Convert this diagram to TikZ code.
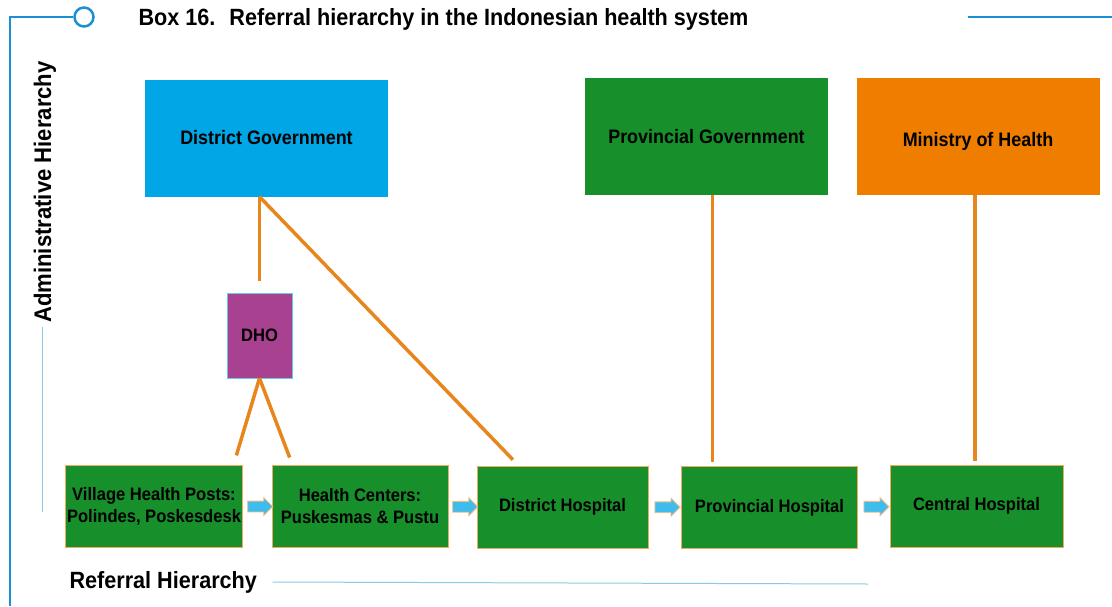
\documentclass[tikz,border=0pt]{standalone}
\usepackage{fontspec}
\setmainfont{Liberation Sans}[FakeStretch=0.92]
\usetikzlibrary{positioning,shapes.arrows,calc}
\definecolor{frameblue}{HTML}{1A8FD6}
\definecolor{lineblue}{HTML}{8CC8E8}
\definecolor{govblue}{HTML}{00A6E6}
\definecolor{govgreen}{HTML}{17902B}
\definecolor{mohorange}{HTML}{EE7D00}
\definecolor{dhopurple}{HTML}{A8418F}
\definecolor{linkorange}{HTML}{E8861E}
\tikzset{
  govbox/.style={minimum width=243pt, minimum height=117pt, align=center, font=\bfseries\fontsize{19.5}{22}\selectfont},
  carebox/.style={fill=govgreen, draw=linkorange!70, line width=1pt, minimum width=176pt, minimum height=82pt, inner xsep=2pt, align=center, font=\bfseries\fontsize{18}{22}\selectfont},
  link/.style={draw=linkorange, line width=3.5pt},
  refarr/.style={single arrow, fill=govblue!75, draw=linkorange!55, line width=0.8pt, minimum height=25pt, minimum width=17pt, inner xsep=0pt, inner ysep=5pt, single arrow head extend=3.5pt},
  axisline/.style={draw=lineblue, line width=1pt},
  frame/.style={draw=frameblue, line width=2.5pt},
}
\begin{document}
\begin{tikzpicture}[x=1pt, y=1pt]
  \useasboundingbox (0,0) rectangle (1112,-606);
  % frame and headings
  \node[circle, frame, fill=white, minimum size=19pt, inner sep=0pt] (knob) at (84,-17) {};
  \draw[frame] (10,-606) -- (10,-17) -- (knob.west);
  \coordinate (rt) at (968,-17);
  \draw[frame] (rt) -- (1112,-17);
  \node[anchor=base west, font=\bfseries\fontsize{23.5}{26}\selectfont] (title) at (135,-25) {Box 16.\hspace{14pt}Referral hierarchy in the Indonesian health system};
  \node[rotate=90, font=\bfseries\fontsize{24}{28}\selectfont] (adm) at (45,-192) {Administrative Hierarchy};
  \draw[axisline] (42,-327) -- (42,-512);
  \node[anchor=west, font=\bfseries\fontsize{23.5}{26}\selectfont] (refh) at (66,-582) {Referral Hierarchy};
  \draw[axisline] ([xshift=12pt]refh.east) -- (868,-584);
  % administrative level
  \node[govbox, fill=govblue] (dgov) at (266.5,-138) {District Government};
  \node[govbox, fill=govgreen] (pgov) at (706.5,-136.5) {Provincial Government};
  \node[govbox, fill=mohorange, text height=25pt] (moh) at (978,-136.5) {Ministry of Health};
  \node[fill=dhopurple, draw=govblue!60, minimum width=65pt, minimum height=85pt, font=\bfseries\fontsize{18}{22}\selectfont] (dho) at (259.5,-335.5) {DHO};
  % referral level
  \node[carebox] (vhp) at (154,-506.5) {Village Health Posts:\\Polindes, Poskesdesk};
  \node[carebox] (hc) at (360,-506.5) {Health Centers:\\Puskesmas \& Pustu};
  \node[carebox, minimum width=171pt] (dhosp) at (562.5,-507) {District Hospital};
  \node[carebox] (phosp) at (769.5,-507.5) {Provincial Hospital};
  \node[carebox, minimum width=173pt] (chosp) at (976.5,-506) {Central Hospital};
  \node[refarr] (r1) at ($(vhp.east)!0.5!(hc.west)$) {};
  \node[refarr] (r2) at ($(hc.east)!0.5!(dhosp.west)$) {};
  \node[refarr] (r3) at ($(dhosp.east)!0.5!(phosp.west)$) {};
  \node[refarr] (r4) at ($(phosp.east)!0.5!(chosp.west)$) {};
  % links
  \coordinate (dtop) at (dgov.south -| dho);
  \draw[link, shorten >=12pt] (dtop) -- (dho.north);
  \draw[link, shorten >=8pt] (dtop) -- ($(dhosp.north)+(-44,0)$);
  \draw[link, shorten >=10pt] (dho.south) -- ([xshift=-10pt]vhp.north east);
  \draw[link, shorten >=8pt] (dho.south) -- ([xshift=21pt]hc.north west);
  \draw[link, shorten >=4pt] ([xshift=6pt]pgov.south) -- ([xshift=6pt]pgov.south |- phosp.north);
  \draw[link, shorten >=4pt] ([xshift=-3pt]moh.south) -- ([xshift=-3pt]moh.south |- chosp.north);
\end{tikzpicture}
\end{document}
